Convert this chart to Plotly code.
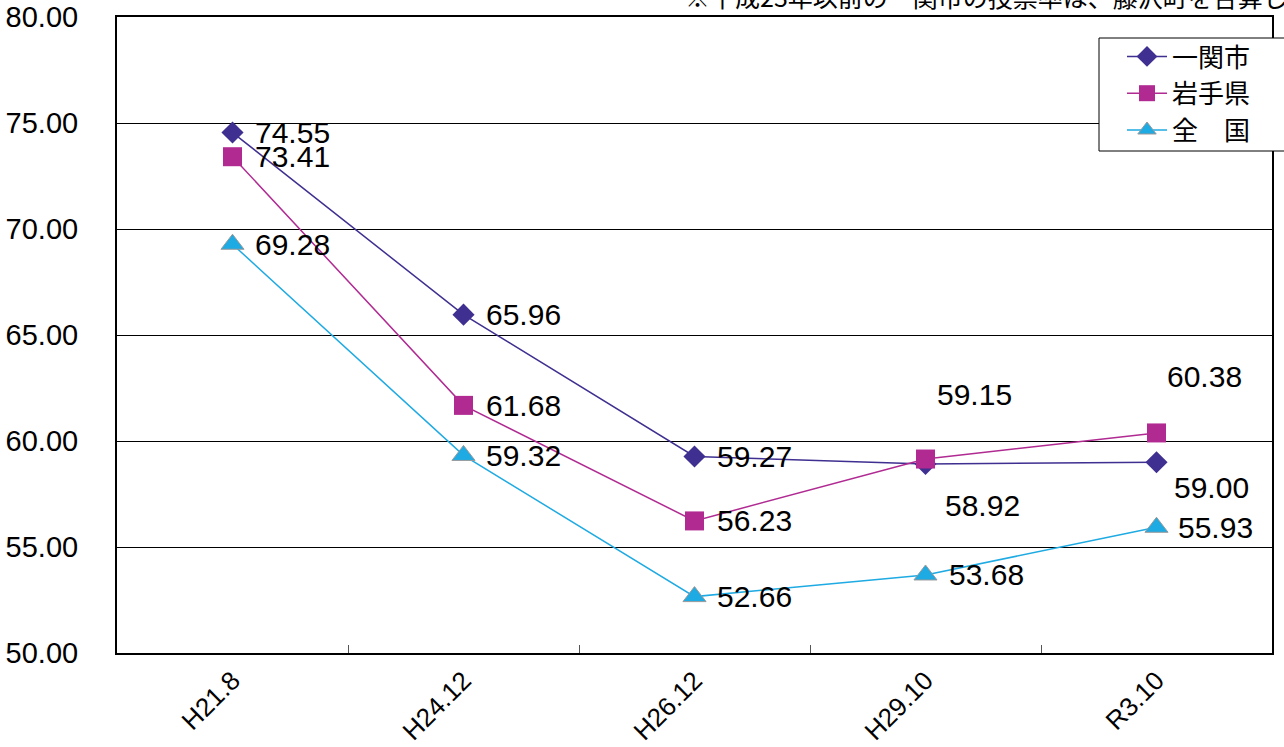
import plotly.graph_objects as go

categories = ["H21.8", "H24.12", "H26.12", "H29.10", "R3.10"]
ichinoseki = [74.55, 65.96, 59.27, 58.92, 59.00]
iwate = [73.41, 61.68, 56.23, 59.15, 60.38]
zenkoku = [69.28, 59.32, 52.66, 53.68, 55.93]
y_ticks = [50, 55, 60, 65, 70, 75, 80]
note = "※平成23年以前の一関市の投票率は、藤沢町を合算した値"

series = [
    ("一関市", ichinoseki, "#3f2f90", "diamond", 17, None),
    ("岩手県", iwate, "#b02a92", "square", 19, None),
    ("全\u3000国", zenkoku, "#1eaae2", "triangle-up", 20, "#999999"),
]

# label offsets (px) per series per point
offsets = [
    [(20, 0), (20, 0), (20, 0), (17, -42), (15, -25)],
    [(20, 0), (20, 0), (20, 0), (9, 65), (8, 56)],
    [(20, 0), (20, 0), (20, 0), (21, 0), (19, 0)],
]

fig = go.Figure()
for name, vals, color, sym, size, lc in series:
    fig.add_trace(go.Scatter(
        x=categories, y=vals, name=name, mode="lines+markers",
        line=dict(color=color, width=1.5),
        marker=dict(symbol=sym, size=size, color=color,
                    line=dict(color=lc if lc else color, width=1 if lc else 0)),
    ))

annotations = []
for (name, vals, color, sym, size, lc), offs in zip(series, offsets):
    for c, v, (dx, dy) in zip(categories, vals, offs):
        annotations.append(dict(
            x=c, y=v, xref="x", yref="y", text=f"{v:.2f}", showarrow=False,
            xanchor="left", yanchor="middle", xshift=dx, yshift=dy,
            font=dict(family="Liberation Sans, Arial", size=30, color="black"),
        ))

annotations.append(dict(
    x=(683 - 117) / 1155, y=(653 + 4) / 636, xref="paper", yref="paper",
    text=note, showarrow=False, xanchor="left", yanchor="middle",
    font=dict(family="Noto Sans CJK JP", size=25, color="black"),
))

# legend frame (extends past the right edge, as in the source)
legend_box = dict(
    type="rect", xref="paper", yref="paper", layer="above",
    x0=(1099 - 117) / 1155, x1=(1300 - 117) / 1155,
    y0=(653 - 151) / 636, y1=(653 - 38) / 636,
    line=dict(color="black", width=1), fillcolor="white",
)

fig.update_layout(
    width=1284, height=747,
    margin=dict(l=117, r=12, t=17, b=94, autoexpand=False),
    paper_bgcolor="white", plot_bgcolor="white",
    showlegend=True,
    legend=dict(
        x=(1122 - 117) / 1155, y=(653 - 33) / 636, xanchor="left", yanchor="top",
        bgcolor="rgba(0,0,0,0)", borderwidth=0,
        font=dict(family="Noto Sans CJK JP", size=26, color="black"),
        itemwidth=40, tracegroupgap=0,
    ),
    shapes=[legend_box],
    annotations=annotations,
)
fig.update_xaxes(
    type="category", range=[-0.5, 4.5], automargin=False,
    showline=True, linecolor="black", linewidth=2, mirror=True,
    ticks="inside", tickson="boundaries", ticklen=8, tickcolor="#555555",
    tickangle=-45, showgrid=False,
    tickfont=dict(family="Liberation Sans, Arial", size=26, color="black"),
)
fig.update_yaxes(
    range=[50, 80], tickvals=y_ticks, tickformat=".2f", automargin=False,
    showline=True, linecolor="black", linewidth=2, mirror=True,
    showgrid=True, gridcolor="black", gridwidth=1, ticks="",
    ticklabelstandoff=31, zeroline=False,
    tickfont=dict(family="Liberation Sans, Arial", size=29, color="black"),
)

fig.write_html("out.html", config={"displayModeBar": False},
               post_script="document.body.style.margin='0';document.body.style.overflow='hidden';")
